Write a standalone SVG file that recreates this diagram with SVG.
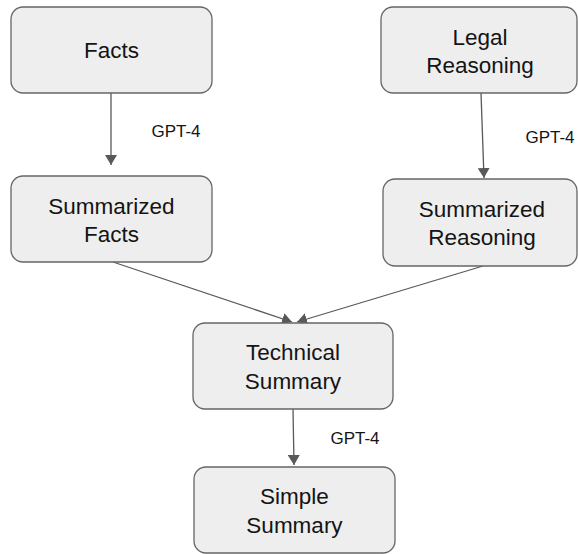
<svg xmlns="http://www.w3.org/2000/svg" width="578" height="554" viewBox="0 0 578 554">
<style>
.box{fill:#eeeeee;stroke:#666666;stroke-width:1.3}
.t{font-family:"Liberation Sans",Arial,sans-serif;font-size:22.5px;fill:#141414;text-anchor:middle;dominant-baseline:central}
.l{font-family:"Liberation Sans",Arial,sans-serif;font-size:17px;fill:#141414;text-anchor:middle;dominant-baseline:central}
.c{stroke:#595959;stroke-width:1.3;fill:none;marker-end:url(#ah)}
</style>
<defs>
<marker id="ah" viewBox="0 0 10 12" refX="10" refY="6" markerWidth="10" markerHeight="12" markerUnits="userSpaceOnUse" orient="auto">
<path d="M0,0 L10,6 L0,12 Z" fill="#595959"/>
</marker>
</defs>
<g id="connectors">
<line class="c" x1="111" y1="93" x2="111" y2="165"/>
<line class="c" x1="481" y1="93" x2="484" y2="178"/>
<line class="c" x1="113" y1="262" x2="292" y2="322"/>
<line class="c" x1="483" y1="266" x2="297" y2="322"/>
<line class="c" x1="293" y1="409" x2="294" y2="465"/>
<text class="l" x="176" y="131">GPT-4</text>
<text class="l" x="550" y="137">GPT-4</text>
<text class="l" x="355" y="438">GPT-4</text>
</g>
<g id="facts">
<rect class="box" x="11" y="7" width="201" height="86" rx="12"/>
<text class="t" x="111.5" y="50">Facts</text>
</g>
<g id="legal">
<rect class="box" x="381" y="7" width="196" height="86" rx="12"/>
<text class="t" x="480" y="37">Legal</text>
<text class="t" x="480" y="65">Reasoning</text>
</g>
<g id="sumfacts">
<rect class="box" x="11" y="176" width="201" height="86" rx="12"/>
<text class="t" x="111.5" y="206">Summarized</text>
<text class="t" x="111.5" y="234">Facts</text>
</g>
<g id="sumreason">
<rect class="box" x="383" y="179" width="194" height="87" rx="12"/>
<text class="t" x="482" y="209">Summarized</text>
<text class="t" x="482" y="237">Reasoning</text>
</g>
<g id="technical">
<rect class="box" x="193" y="323" width="200" height="86" rx="12"/>
<text class="t" x="293" y="352">Technical</text>
<text class="t" x="293" y="381">Summary</text>
</g>
<g id="simple">
<rect class="box" x="194" y="467" width="201" height="86" rx="12"/>
<text class="t" x="294.5" y="496">Simple</text>
<text class="t" x="294.5" y="525">Summary</text>
</g>
</svg>
